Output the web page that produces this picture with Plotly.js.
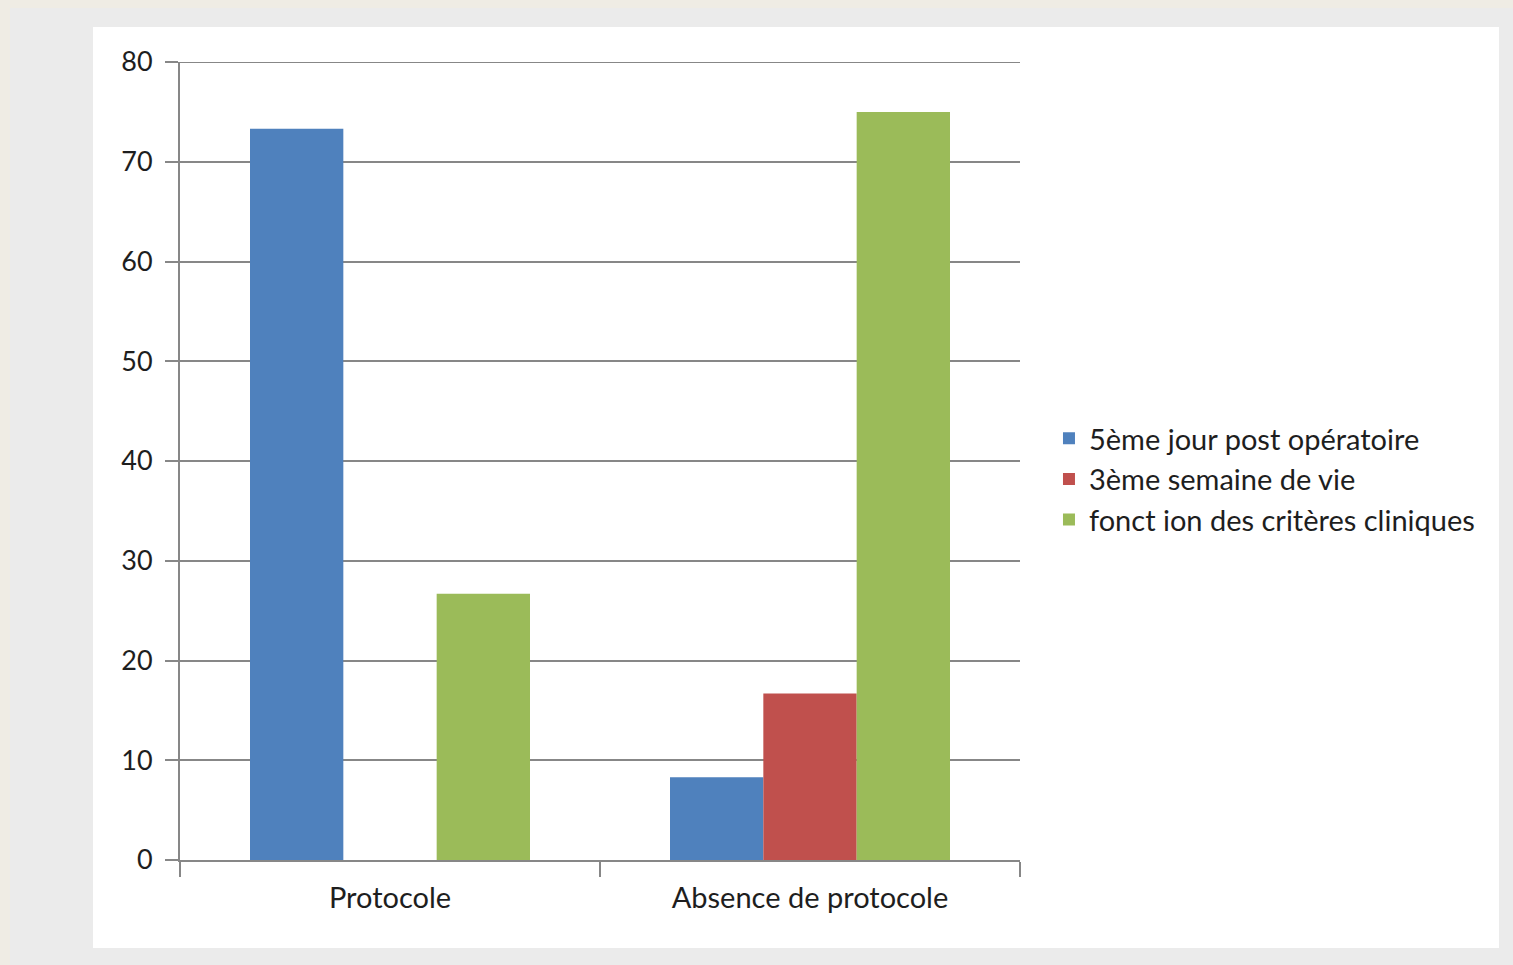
<!DOCTYPE html>
<html>
<head>
<meta charset="utf-8">
<script src="https://cdn.plot.ly/plotly-3.0.1.min.js"></script>
<style>
  html, body { margin: 0; padding: 0; }
  body { width: 1513px; height: 965px; background: #efece4; position: relative; overflow: hidden; }
  #frame { position: absolute; left: 10px; top: 8px; width: 1503px; height: 957px; background: #ebebeb; }
  #chart { position: absolute; left: 93px; top: 27px; width: 1406px; height: 921px; background: #ffffff; }
</style>
</head>
<body>
<div id="frame"></div>
<div id="chart"></div>
<script>
// Groups on the x axis
const categories = ['Protocole', 'Absence de protocole'];

// Share of patients (%) per timing of the assessment
const seriesNames = ['5ème jour post opératoire', '3ème semaine de vie', 'fonct ion des critères cliniques'];
const jour5 = [73.3, 8.3];
const semaine3 = [0, 16.7];
const criteres = [26.7, 75];

const yTicks = [0, 10, 20, 30, 40, 50, 60, 70, 80];

const colors = ['#4f81bd', '#c0504d', '#9bbb59'];
const values = [jour5, semaine3, criteres];

const font = 'Lato, "Open Sans", sans-serif';
const textColor = '#1e1e1e';
const lineColor = '#878787';

const traces = values.map((v, i) => ({
  type: 'bar',
  name: seriesNames[i],
  x: categories,
  y: v,
  marker: { color: colors[i], line: { width: 0 } },
  hoverinfo: 'x+y+name'
}));

const layout = {
  width: 1406,
  height: 921,
  margin: { l: 87, r: 479, t: 35, b: 88 },
  paper_bgcolor: '#ffffff',
  plot_bgcolor: '#ffffff',
  barmode: 'group',
  bargap: 1 / 3,
  bargroupgap: 0,
  font: { family: font, size: 26, color: textColor },
  xaxis: {
    type: 'category',
    showgrid: false,
    showline: true,
    linecolor: lineColor,
    linewidth: 2,
    ticks: 'outside',
    tickson: 'boundaries',
    ticklen: 15,
    tickwidth: 2,
    tickcolor: lineColor,
    ticklabelstandoff: 11,
    tickfont: { family: font, size: 29, color: textColor },
    zeroline: false
  },
  yaxis: {
    range: [0, 80],
    tickvals: yTicks,
    ticktext: yTicks.map(String),
    showgrid: true,
    gridcolor: lineColor,
    gridwidth: 2,
    showline: true,
    linecolor: lineColor,
    linewidth: 2,
    ticks: 'outside',
    ticklen: 13,
    tickwidth: 2,
    tickcolor: lineColor,
    ticklabelstandoff: 7,
    tickfont: { family: font, size: 27, color: textColor },
    zeroline: false
  },
  // gridline at the top of the value range
  shapes: [{
    type: 'line', xref: 'paper', yref: 'y',
    x0: 0, x1: 1, y0: yTicks[yTicks.length - 1], y1: yTicks[yTicks.length - 1],
    line: { color: lineColor, width: 2 }
  }],
  legend: {
    x: 1.0345,
    xanchor: 'left',
    y: 0.477,
    yanchor: 'middle',
    font: { family: font, size: 29, color: textColor },
    bgcolor: 'rgba(0,0,0,0)',
    tracegroupgap: 0
  },
  showlegend: true
};

Plotly.newPlot('chart', traces, layout, { displayModeBar: false, staticPlot: true });
</script>
</body>
</html>
